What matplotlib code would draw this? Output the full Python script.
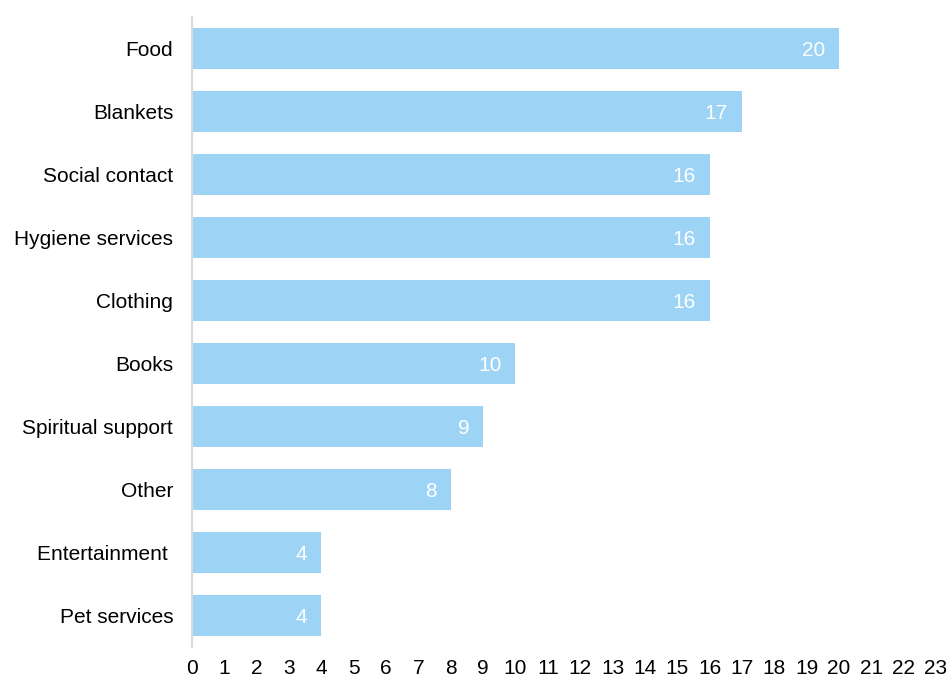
import matplotlib.pyplot as plt

plt.rcParams['font.family'] = ['Liberation Sans', 'DejaVu Sans']

categories = ['Food', 'Blankets', 'Social contact', 'Hygiene services', 'Clothing',
              'Books', 'Spiritual support', 'Other', 'Entertainment ', 'Pet services']
counts = [20, 17, 16, 16, 16, 10, 9, 8, 4, 4]

fig = plt.figure(figsize=(9.52, 6.82), dpi=100)
ax = fig.add_axes([192 / 952, 35 / 682, 744 / 952, 630 / 682])

ypos = list(range(len(categories)))[::-1]
bars = ax.barh(ypos, counts, height=0.635, color='#9dd3f5')

for y, v in zip(ypos, counts):
    ax.annotate(str(v), (v, y), xytext=(-10, 0), textcoords='offset points',
                ha='right', va='center_baseline', color='white', fontsize=15)

ax.set_xlim(0, 23)
ax.set_ylim(-0.5, len(categories) - 0.5)
ax.set_xticks(range(0, 24))
ax.set_yticks(ypos)
ax.set_yticklabels(categories)
ax.tick_params(axis='both', length=0, labelsize=15, colors='black')
ax.tick_params(axis='x', pad=9)
ax.tick_params(axis='y', pad=13.5)

for side in ['top', 'right', 'bottom']:
    ax.spines[side].set_visible(False)
ax.spines['left'].set_color('#d9d9d9')
ax.spines['left'].set_linewidth(1.5)

fig.savefig('out.png', dpi=100)
